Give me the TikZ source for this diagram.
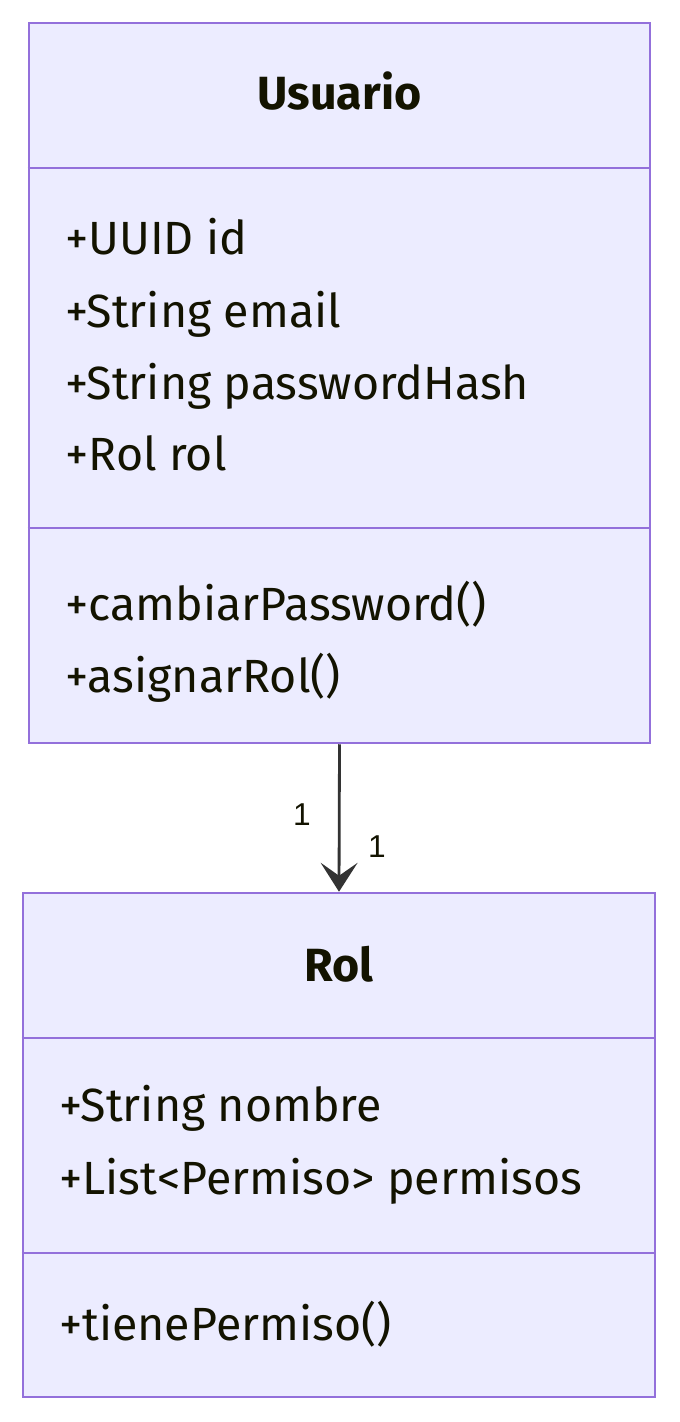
\documentclass[tikz,border=0pt]{standalone}
\usepackage{fontspec}
\setmainfont{Fira Sans}
\newfontfamily\cardfont{Liberation Sans}
\usetikzlibrary{arrows.meta,positioning}
\definecolor{clsfill}{HTML}{ECECFF}
\definecolor{clsdraw}{HTML}{9370DB}
\definecolor{clstext}{HTML}{131300}
\definecolor{linkgray}{HTML}{333333}

\begin{document}
\begin{tikzpicture}[
  x=0.02cm, y=-0.02cm,
  clsbox/.style={draw=clsdraw, fill=clsfill, line width=1.5pt, inner sep=0},
  clsline/.style={draw=clsdraw, line width=1.5pt},
  clstitle/.style={font=\fontsize{26.5}{32}\selectfont\bfseries, text=clstext, anchor=base, inner sep=0},
  member/.style={font=\fontsize{26.5}{32}\selectfont, text=clstext, anchor=base west, inner sep=0},
  card/.style={font=\cardfont\fontsize{18}{20}\selectfont, text=clstext, inner sep=0},
  assoc/.style={draw=linkgray, line width=1.6pt, -{Stealth[length=0.58cm, width=0.74cm, inset=0.26cm, line width=1pt]}}
]
\useasboundingbox (0,0) rectangle (679,1422);

% class Usuario
\node[clsbox, minimum width=12.42cm, minimum height=14.4cm] (usuario) at (339.5,383) {};
\draw[clsline] (usuario.west |- 0,168) -- (usuario.east |- 0,168);
\draw[clsline] (usuario.west |- 0,528) -- (usuario.east |- 0,528);
\node[clstitle] (usuarioname) at (339.5,110) {Usuario};
\node[member] (uid) at (65,255) {+UUID id};
\node[member] (uemail) at (65,327) {+String email};
\node[member] (uhash) at (65,399) {+String passwordHash};
\node[member] (urol) at (65,470) {+Rol rol};
\node[member] (ucambiar) at (65,620) {+cambiarPassword()};
\node[member] (uasignar) at (65,692) {+asignarRol()};

% class Rol
\node[clsbox, minimum width=12.64cm, minimum height=10.08cm] (rol) at (339,1145) {};
\draw[clsline] (rol.west |- 0,1038) -- (rol.east |- 0,1038);
\draw[clsline] (rol.west |- 0,1253) -- (rol.east |- 0,1253);
\node[clstitle] (rolname) at (339,981) {Rol};
\node[member] (rnombre) at (59,1121) {+String nombre};
\node[member] (rpermisos) at (59,1194) {+List<Permiso> permisos};
\node[member] (rtiene) at (59,1340) {+tienePermiso()};

% association
\draw[assoc] (usuario.south) -- (rol.north);
\node[card] (cardfrom) at (302,815) {1};
\node[card] (cardto) at (377,847) {1};
\end{tikzpicture}
\end{document}
